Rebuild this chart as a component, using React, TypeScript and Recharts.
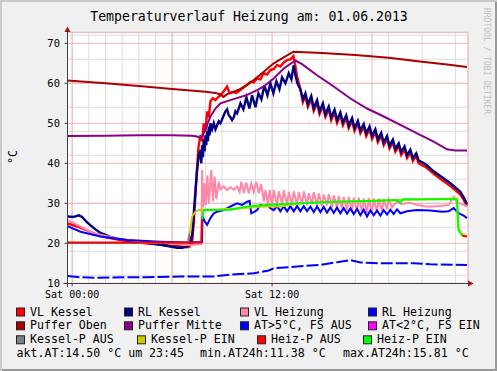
// @ts-nocheck
import React from 'react'
import { LineChart, Line, XAxis, YAxis, CartesianGrid } from 'recharts'

const FONT = '"DejaVu Sans Mono", monospace'

// time axis in hours of the day, values in °C
const X_DOMAIN = [-0.28, 23.76]
const Y_DOMAIN = [10, 72.75]
const xTicks = [0, 12]
const xTickLabels = ['Sat 00:00', 'Sat 12:00']
const yTicks = [10, 20, 30, 40, 50, 60, 70]

const vlKessel = [
  [-0.28, 25.0], [0.3, 24.2], [0.9, 23.2], [1.5, 22.2], [2.1, 21.4], [2.9, 20.8], [3.5, 20.4],
  [4.1, 20.1], [4.7, 19.9], [5.3, 19.7], [5.9, 19.4], [6.5, 19.2], [6.9, 19.0], [7.05, 19.2],
  [7.1, 21.3], [7.2, 20.5], [7.3, 25], [7.45, 36], [7.58, 44], [7.7, 47], [7.8, 45.5],
  [7.9, 50], [8.0, 48], [8.1, 53], [8.2, 51.5], [8.3, 55.5], [8.45, 56.3], [8.6, 55.8],
  [8.75, 56.5], [8.9, 57], [9.1, 58], [9.3, 59.2], [9.45, 57.5], [9.65, 57.8], [9.85, 57.6],
  [10.1, 58.3], [10.3, 59], [10.5, 59.6], [10.7, 60.4], [10.9, 60.2], [11.1, 61.2], [11.3, 61.0],
  [11.48, 62.5], [11.7, 62.2], [11.9, 63.3], [12.1, 63.6], [12.3, 64.6], [12.5, 64.2], [12.7, 65.2],
  [12.9, 65.8], [13.1, 66.0], [13.28, 66.8], [13.4, 64.2], [13.5, 61.7], [13.7, 58.5],
  [13.85, 55.3], [14.0, 56.8], [14.15, 54.1], [14.35, 56.1], [14.5, 53.1], [14.7, 55.1],
  [14.85, 52.3], [15.05, 54.3], [15.2, 51.6], [15.4, 53.5], [15.55, 50.8], [15.75, 52.7],
  [15.9, 50.1], [16.1, 52.0], [16.25, 49.5], [16.45, 51.3], [16.6, 48.8], [16.8, 50.6],
  [16.95, 48.1], [17.15, 49.9], [17.3, 47.5], [17.5, 49.1], [17.65, 46.8], [17.85, 48.5],
  [18.0, 46.1], [18.2, 47.8], [18.35, 45.3], [18.55, 46.9], [18.7, 44.5], [18.9, 46.1],
  [19.05, 43.7], [19.25, 45.2], [19.4, 42.9], [19.6, 44.3], [19.75, 42.1], [19.95, 43.5],
  [20.1, 41.3], [20.3, 42.7], [20.45, 40.6], [20.65, 41.8], [20.8, 40.0], [21.2, 39.1],
  [21.7, 37.4], [22.2, 35.8], [22.7, 34.3], [23.0, 33.3], [23.3, 32.2], [23.5, 30.9], [23.7, 29.3],
]

const rlKessel = [
  [-0.28, 26.7], [0.1, 26.6], [0.4, 27.0], [0.6, 26.6], [0.9, 25.2], [1.3, 23.8], [1.7, 22.6],
  [2.3, 21.6], [2.9, 21.0], [3.5, 20.6], [4.1, 20.3], [4.7, 20.0], [5.3, 19.6], [5.9, 19.2],
  [6.3, 18.9], [6.6, 18.9], [6.9, 19.2], [7.1, 20.0], [7.2, 21.7], [7.3, 27.5], [7.4, 33],
  [7.5, 38.3], [7.6, 42], [7.7, 43.3], [7.75, 40], [7.8, 44.5], [7.85, 41.5], [7.9, 46],
  [7.95, 43], [8.0, 47], [8.05, 44.5], [8.1, 48], [8.15, 45.5], [8.2, 49.2], [8.25, 47],
  [8.3, 50], [8.4, 48.5], [8.5, 50], [8.6, 48.5], [8.7, 49.5], [8.8, 50.5], [8.9, 50],
  [9.0, 51], [9.1, 52], [9.2, 53], [9.3, 53.5], [9.4, 52], [9.5, 51.5], [9.6, 50.8],
  [9.7, 51.5], [9.8, 53], [9.9, 52.5], [10.1, 55], [10.28, 53.5], [10.46, 56.5], [10.64, 53.7],
  [10.8, 57], [11.0, 54], [11.18, 57.5], [11.36, 56], [11.54, 59.5], [11.72, 57], [11.9, 60],
  [12.08, 57.5], [12.26, 60.5], [12.44, 58.5], [12.6, 61.5], [12.8, 60], [13.0, 62.5],
  [13.16, 61], [13.3, 64.5], [13.4, 62], [13.52, 60], [13.7, 58.5],
  [13.85, 56.0], [14.0, 57.5], [14.15, 54.8], [14.35, 56.8], [14.5, 53.8], [14.7, 55.8],
  [14.85, 53.0], [15.05, 55.0], [15.2, 52.3], [15.4, 54.2], [15.55, 51.5], [15.75, 53.4],
  [15.9, 50.8], [16.1, 52.7], [16.25, 50.2], [16.45, 52.0], [16.6, 49.5], [16.8, 51.3],
  [16.95, 48.8], [17.15, 50.6], [17.3, 48.2], [17.5, 49.8], [17.65, 47.5], [17.85, 49.2],
  [18.0, 46.8], [18.2, 48.5], [18.35, 46.0], [18.55, 47.6], [18.7, 45.2], [18.9, 46.8],
  [19.05, 44.4], [19.25, 45.9], [19.4, 43.6], [19.6, 45.0], [19.75, 42.8], [19.95, 44.2],
  [20.1, 42.0], [20.3, 43.4], [20.45, 41.3], [20.65, 42.5], [20.8, 40.7], [21.2, 39.8],
  [21.7, 38.0], [22.2, 36.5], [22.7, 35.0], [23.0, 34.0], [23.3, 32.9], [23.5, 31.5], [23.7, 29.8],
]

const vlHeizung = [
  [-0.28, 25.8], [0.5, 24.2], [1.28, 22.5], [2.3, 21.6], [2.9, 21.0], [4.1, 20.5], [5.3, 20.2],
  [6.5, 19.8], [7.0, 19.6], [7.75, 19.8], [7.8, 38.3], [7.87, 29], [7.95, 35], [8.02, 29.5],
  [8.12, 37], [8.2, 30], [8.35, 38.3], [8.45, 30.5], [8.55, 36.7], [8.65, 31], [8.8, 35.4],
  [8.9, 33.5], [9.1, 34.2], [9.3, 33.3], [9.5, 34.0], [9.7, 33.4], [9.9, 34.2], [10.05, 32.8],
  [10.15, 35.4], [10.3, 32.6], [10.45, 35.2], [10.6, 32.5], [10.75, 35.0], [10.9, 32.8],
  [11.05, 35.4], [11.2, 32.5], [11.35, 34.8], [11.5, 30.5], [11.6, 33.3], [11.75, 29.8],
  [11.85, 33.3], [12.0, 29.6], [12.1, 33.3], [12.3, 29.6], [12.4, 33.0], [12.6, 29.8],
  [12.7, 33.3], [12.9, 29.6], [13.0, 32.8], [13.2, 29.8], [13.3, 33.0], [13.5, 29.6],
  [13.6, 32.8], [13.8, 29.8], [13.9, 33.0], [14.1, 29.5], [14.2, 32.5], [14.4, 29.8],
  [14.5, 32.8], [14.7, 29.5], [14.8, 32.5], [15.0, 29.2], [15.1, 32.2], [15.3, 29.5],
  [15.4, 32.3], [15.6, 29.0], [15.7, 32.0], [15.9, 28.8], [16.0, 31.8], [16.2, 28.6],
  [16.3, 31.6], [16.5, 28.3], [16.6, 31.6], [16.8, 28.2], [16.9, 31.4], [17.1, 28.0],
  [17.2, 31.4], [17.4, 27.8], [17.5, 31.2], [17.7, 27.6], [17.8, 31.3], [18.0, 27.6],
  [18.1, 31.2], [18.3, 27.8], [18.4, 31.2], [18.6, 28.0], [18.7, 31.0], [18.9, 28.5],
  [19.0, 31.0], [19.2, 29.0], [19.5, 30.5], [19.8, 29.8], [20.2, 30.2], [20.7, 29.6],
  [21.2, 29.2], [21.7, 29.2], [22.2, 29.4], [22.6, 29.6], [22.9, 31.6], [23.1, 30.2],
  [23.4, 29.8], [23.7, 29.2],
]

const rlHeizung = [
  [-0.28, 24.3], [0.5, 22.9], [1.7, 21.7], [3.3, 20.8], [5.3, 20.4], [6.9, 20.2], [7.8, 20.3],
  [7.82, 26.7], [7.95, 25.5], [8.1, 24.6], [8.3, 26.3], [8.5, 27.5], [8.7, 27.9], [9.1, 28.3],
  [9.5, 29.2], [9.9, 30.0], [10.2, 29.6], [10.5, 30.4], [10.65, 30.6], [10.75, 27.5],
  [10.9, 27.8], [11.1, 28.3], [11.3, 29.6], [11.5, 29.3], [11.7, 29.6], [11.9, 28.8],
  [12.1, 28.3], [12.3, 29.3], [12.5, 28.0], [12.7, 29.3], [12.9, 28.0], [13.1, 29.3],
  [13.3, 28.0], [13.5, 29.3], [13.7, 28.0], [13.9, 29.3], [14.1, 28.0], [14.3, 29.2],
  [14.5, 27.8], [14.7, 29.2], [14.9, 27.8], [15.1, 29.1], [15.3, 27.7], [15.5, 29.0],
  [15.7, 27.6], [15.9, 28.9], [16.1, 27.5], [16.3, 28.8], [16.5, 27.4], [16.7, 28.7],
  [16.9, 27.3], [17.1, 28.6], [17.3, 27.0], [17.5, 28.4], [17.7, 26.7], [17.9, 28.2],
  [18.1, 27.0], [18.3, 28.2], [18.5, 26.9], [18.7, 28.3], [18.9, 27.2], [19.1, 28.4],
  [19.3, 27.3], [19.5, 28.5], [19.7, 27.5], [20.1, 28.0], [20.7, 28.3], [21.5, 28.2],
  [22.2, 27.9], [22.6, 28.0], [22.9, 28.8], [23.2, 27.5], [23.5, 26.9], [23.7, 26.3],
]

const pufferOben = [
  [-0.28, 60.7], [2, 60.0], [4, 59.3], [6, 58.6], [8, 57.9], [8.6, 57.6], [8.9, 57.2],
  [9.08, 56.6], [9.3, 57.3], [9.5, 57.6], [10.1, 58.6], [10.5, 59.6], [10.9, 60.8],
  [11.5, 62.9], [12.1, 65.0], [12.7, 66.5], [13.28, 67.9], [15, 67.6], [17, 67.1],
  [19, 66.4], [21, 65.4], [22.5, 64.7], [23.7, 64.1],
]

const pufferMitte = [
  [-0.28, 46.8], [2, 46.9], [4, 47.0], [6, 47.0], [7.2, 46.9], [7.5, 46.7], [7.7, 46.3],
  [7.8, 46.7], [8.0, 48.5], [8.3, 51.7], [8.6, 53.7], [8.9, 55], [9.5, 55.8], [10.5, 57.1],
  [11.1, 58.3], [11.5, 59.2], [12.1, 61.2], [12.7, 63.7], [13.4, 65.7], [13.8, 64.8],
  [14.7, 62.0], [15.7, 59.2], [16.7, 56.2], [17.7, 53.7], [18.7, 51.7], [19.7, 49.6],
  [20.7, 47.5], [21.7, 45.4], [22.5, 43.5], [23.0, 43.2], [23.7, 43.2],
]

const aussen = [
  [-0.28, 11.8], [0.5, 11.5], [1.5, 11.4], [3, 11.5], [4.5, 11.5], [6.5, 11.7], [8.5, 11.7],
  [9.5, 12.2], [10.9, 12.5], [11.8, 13.2], [12.1, 13.75], [13.5, 14.2], [14.9, 14.6],
  [16.1, 15.4], [16.7, 15.8], [17.3, 15.2], [18.5, 15.0], [20.5, 15.0], [21.5, 14.75], [23.7, 14.6],
]

const kesselPAus = [[-0.28, 20.1], [6.95, 20.1], [7.0, 21.5], [7.05, 22.5]]
const kesselPEin = [
  [7.05, 22.5], [7.1, 23.3], [7.2, 26.7], [7.4, 27.9], [7.6, 28.3], [9.0, 28.5], [10.1, 28.75],
  [11.5, 29.2], [12.5, 29.2], [13.7, 30.0], [16, 30.3], [19.7, 30.8], [22.9, 31.2], [23.1, 31.2],
  [23.15, 24], [23.3, 22.5], [23.7, 21.7],
]

const heizPAusStart = [[-0.28, 20.2], [7.75, 20.2], [7.8, 26.0]]
const heizPEin = [
  [7.8, 26.0], [7.9, 28.3], [8.5, 28.3], [9.5, 28.4], [10.5, 29.2], [11.7, 29.6], [12.7, 29.8],
  [13.8, 30.0], [15.7, 30.4], [17.7, 30.6], [19.5, 30.8], [19.7, 30.0], [19.85, 31.0],
  [21.7, 31.0], [23.0, 31.0], [23.1, 30.8], [23.2, 23.3], [23.4, 22.0],
]
const heizPAusEnd = [[23.4, 22.0], [23.5, 21.8], [23.7, 21.7]]

const series = [
  { key: 'vlKessel', data: vlKessel, color: '#ff0000', width: 2.4 },
  { key: 'rlKessel', data: rlKessel, color: '#000080', width: 2.4 },
  { key: 'vlHeizung', data: vlHeizung, color: '#ff88a8', width: 2 },
  { key: 'rlHeizung', data: rlHeizung, color: '#0000ff', width: 2 },
  { key: 'pufferOben', data: pufferOben, color: '#aa0000', width: 2 },
  { key: 'pufferMitte', data: pufferMitte, color: '#880088', width: 2 },
  { key: 'aussen', data: aussen, color: '#0000ff', width: 2, dash: '12 3' },
  { key: 'kesselPAus', data: kesselPAus, color: '#808080', width: 2 },
  { key: 'kesselPEin', data: kesselPEin, color: '#cccc00', width: 2 },
  { key: 'heizPAusStart', data: heizPAusStart, color: '#ff0000', width: 2 },
  { key: 'heizPEin', data: heizPEin, color: '#00ff00', width: 2 },
  { key: 'heizPAusEnd', data: heizPAusEnd, color: '#ff0000', width: 2 },
]

const legendRows = [
  [['VL Kessel', '#ff0000', 16], ['RL Kessel', '#000080', 124], ['VL Heizung', '#ff88a8', 240], ['RL Heizung', '#0000ff', 368]],
  [['Puffer Oben', '#aa0000', 16], ['Puffer Mitte', '#880088', 124], ['AT>5°C, FS AUS', '#0000ff', 240], ['AT<2°C, FS EIN', '#ff00ff', 368]],
  [['Kessel-P AUS', '#808080', 16], ['Kessel-P EIN', '#cccc00', 137], ['Heiz-P AUS', '#ff0000', 257], ['Heiz-P EIN', '#00ff00', 363]],
]
const legendBaselines = [315.5, 329.3, 343.3]
const statsParts = [['akt.AT:14.50 °C um 23:45', 16.5], ['min.AT24h:11.38 °C', 200], ['max.AT24h:15.81 °C', 343]]

const minorHours = Array.from({ length: 24 }, (_, i) => i)
const majorHours = [0, 6, 12, 18]
const minorTemps = Array.from({ length: 32 }, (_, i) => 10 + i * 2)

const toPts = (arr) => arr.map(([t, v]) => ({ t, v }))

export default function App() {
  return (
    <div style={{
      position: 'fixed', left: 0, top: 0, width: 497, height: 371, background: '#f0f0f0',
      boxShadow: 'inset 2px 2px 0 #cbcbcb, inset -2px -2px 0 #999999', fontFamily: FONT,
    }}>
      <div style={{ position: 'absolute', left: 0, top: 0 }}>
        <LineChart width={497} height={310} margin={{ top: 32.3, right: 29, bottom: 6.7, left: 27.5 }}>
          <XAxis xAxisId="minor" type="number" dataKey="t" domain={X_DOMAIN} ticks={minorHours} allowDataOverflow hide />
          <XAxis xAxisId="major" type="number" dataKey="t" domain={X_DOMAIN} ticks={majorHours} allowDataOverflow hide />
          <YAxis yAxisId="minor" type="number" domain={Y_DOMAIN} ticks={minorTemps} allowDataOverflow hide />
          <CartesianGrid xAxisId="minor" yAxisId="minor" stroke="#dcdcdc" fill="#ffffff" />
          <CartesianGrid xAxisId="major" yAxisId="main" stroke="#f0b4b4" />
          <XAxis
            xAxisId="main" type="number" dataKey="t" domain={X_DOMAIN} ticks={xTicks} allowDataOverflow
            height={20} axisLine={false} tickSize={3} tickMargin={4.3}
            tickLine={{ stroke: '#404040' }}
            tickFormatter={(v) => xTickLabels[xTicks.indexOf(v)]}
            tick={{ fontSize: 10, fontFamily: FONT, fill: '#000' }}
          />
          <YAxis
            yAxisId="main" type="number" domain={Y_DOMAIN} ticks={yTicks} allowDataOverflow
            width={40} axisLine={false} tickSize={3} tickMargin={4.5}
            tickLine={{ stroke: '#404040' }}
            tick={{ fontSize: 10.5, fontFamily: FONT, fill: '#000' }}
          />
          {series.map((s) => (
            <Line
              key={s.key} xAxisId="main" yAxisId="main" data={toPts(s.data)} dataKey="v"
              type="linear" stroke={s.color} strokeWidth={s.width} strokeDasharray={s.dash}
              dot={false} activeDot={false} isAnimationActive={false}
            />
          ))}
        </LineChart>
      </div>
      <svg width={497} height={371} style={{ position: 'absolute', left: 0, top: 0, pointerEvents: 'none' }}>
        <text x={249} y={20.7} textAnchor="middle" fontSize={13.2} fontFamily={FONT} fill="#000">
          Temperaturverlauf Heizung am: 01.06.2013
        </text>
        <text x={0} y={0} transform="translate(17,157) rotate(-90)" textAnchor="middle" fontSize={11.6} fontFamily={FONT} fill="#000">
          °C
        </text>
        <text x={0} y={0} transform="translate(484,61) rotate(90)" textAnchor="middle" fontSize={8} fontFamily={FONT} fill="#c0c0c0">
          RRDTOOL / TOBI OETIKER
        </text>
        <line x1={67.5} y1={287} x2={67.5} y2={29} stroke="#404040" strokeWidth={1} />
        <line x1={63.5} y1={283.5} x2={470} y2={283.5} stroke="#404040" strokeWidth={1} />
        <polygon points="64.5,32 70.5,32 67.5,26.5" fill="#a01010" />
        <polygon points="468,280.5 468,286.5 473.5,283.5" fill="#a01010" />
        {legendRows.map((row, r) => row.map(([label, color, x]) => (
          <g key={label}>
            <rect x={x + 0.5} y={legendBaselines[r] - 7.5} width={8} height={8} fill={color} stroke="#222" strokeWidth={1} />
            <text x={x + 14} y={legendBaselines[r]} fontSize={11.6} fontFamily={FONT} fill="#000" style={{ whiteSpace: 'pre' }}>
              {label}
            </text>
          </g>
        )))}
        {statsParts.map(([txt, x]) => (
          <text key={txt} x={x} y={356.8} fontSize={11.6} fontFamily={FONT} fill="#000" style={{ whiteSpace: 'pre' }}>
            {txt}
          </text>
        ))}
      </svg>
    </div>
  )
}
